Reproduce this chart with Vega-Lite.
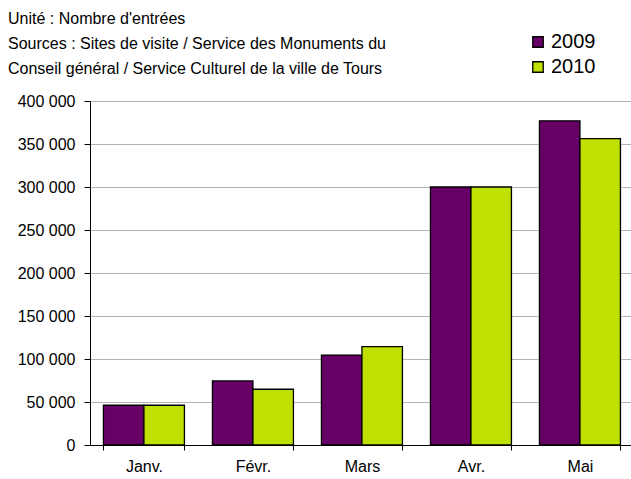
{
  "$schema": "https://vega.github.io/schema/vega-lite/v6.json",
  "width": 541,
  "height": 344,
  "autosize": {"type": "none"},
  "padding": {"left": 90, "top": 101, "right": 0, "bottom": 34},
  "background": "white",
  "title": {
    "text": ["Unité : Nombre d'entrées", "Sources : Sites de visite / Service des Monuments du", "Conseil général / Service Culturel de la ville de Tours"],
    "anchor": "start",
    "frame": "group",
    "dx": -82,
    "dy": 63,
    "fontSize": 16,
    "fontWeight": "normal",
    "font": "Liberation Sans",
    "color": "black",
    "lineHeight": 25,
    "offset": 18
  },
  "data": {
    "values": [
      {"Mois": "Janv.", "Année": "2009", "Valeur": 46200},
      {"Mois": "Janv.", "Année": "2010", "Valeur": 46200},
      {"Mois": "Févr.", "Année": "2009", "Valeur": 74500},
      {"Mois": "Févr.", "Année": "2010", "Valeur": 64800},
      {"Mois": "Mars", "Année": "2009", "Valeur": 104600},
      {"Mois": "Mars", "Année": "2010", "Valeur": 114300},
      {"Mois": "Avr.", "Année": "2009", "Valeur": 300000},
      {"Mois": "Avr.", "Année": "2010", "Valeur": 300000},
      {"Mois": "Mai", "Année": "2009", "Valeur": 377000},
      {"Mois": "Mai", "Année": "2010", "Valeur": 356300}
    ]
  },
  "mark": {"type": "bar", "stroke": "black", "strokeWidth": 1.3},
  "encoding": {
    "x": {
      "field": "Mois",
      "type": "nominal",
      "sort": null,
      "scale": {"paddingInner": 0.257, "paddingOuter": 0.11, "align": 0.56},
      "axis": {
        "title": null,
        "labelAngle": 0,
        "tickBand": "extent",
        "labelFontSize": 16,
        "labelPadding": 8,
        "labelColor": "black",
        "domainColor": "black",
        "tickColor": "black",
        "tickSize": 5,
        "grid": false
      }
    },
    "xOffset": {"field": "Année", "type": "nominal"},
    "y": {
      "field": "Valeur",
      "type": "quantitative",
      "scale": {"domain": [0, 400000], "nice": false},
      "axis": {
        "title": null,
        "values": [0, 50000, 100000, 150000, 200000, 250000, 300000, 350000, 400000],
        "labelExpr": "replace(format(datum.value, ','), ',', ' ')",
        "labelFontSize": 16,
        "labelColor": "black",
        "labelPadding": 9,
        "domainColor": "black",
        "tickColor": "black",
        "tickSize": 6,
        "grid": true,
        "gridColor": "#b3b3b3"
      }
    },
    "color": {
      "field": "Année",
      "type": "nominal",
      "scale": {"range": ["#660066", "#bfe000"]},
      "legend": {
        "title": null,
        "orient": "none",
        "legendX": 438,
        "legendY": -69,
        "symbolType": "square",
        "symbolSize": 110,
        "symbolStrokeColor": "black",
        "symbolStrokeWidth": 1.3,
        "symbolOpacity": 1,
        "labelFontSize": 20,
        "labelColor": "black",
        "labelOffset": 3,
        "rowPadding": 5
      }
    }
  },
  "config": {
    "font": "Liberation Sans",
    "view": {"stroke": null}
  }
}
